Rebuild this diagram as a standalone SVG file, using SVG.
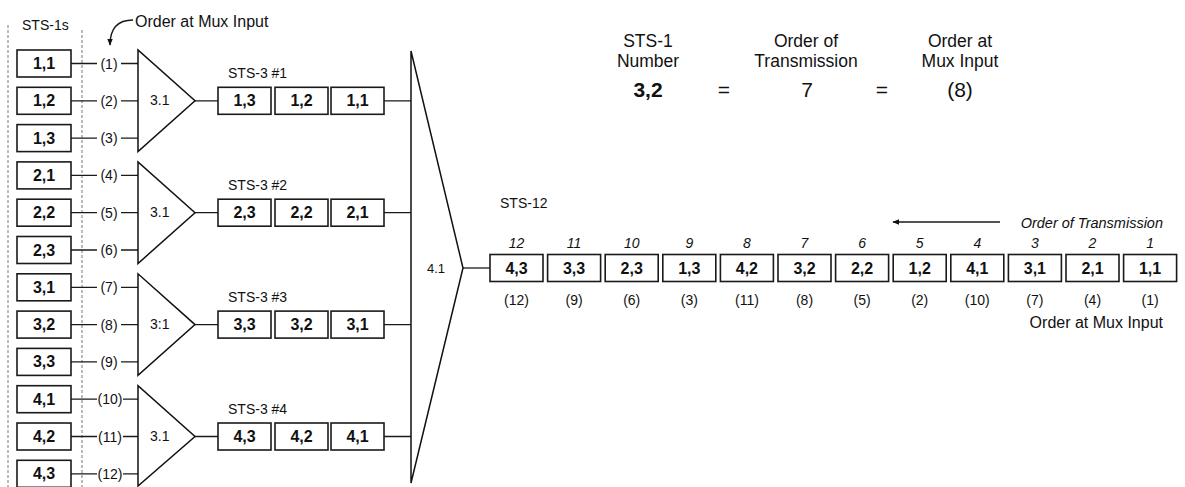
<svg xmlns="http://www.w3.org/2000/svg" width="1185" height="487" viewBox="0 0 1185 487">
<style>
text{font-family:"Liberation Sans",Arial,sans-serif;fill:#111}
.fr{fill:#fff;stroke:#1a1a1a;stroke-width:1.6}
.bx{font-weight:bold;font-size:16px;text-anchor:middle}
.ord{font-size:14px;text-anchor:middle}
.lb{font-size:14px}
.it{font-size:14px;font-style:italic;text-anchor:middle}
.hd{font-size:17.5px;text-anchor:middle}
.val{font-size:21px;text-anchor:middle}
.ln{stroke:#1a1a1a;stroke-width:1.3;fill:none}
.mux{fill:#fff;stroke:#111;stroke-width:1.5}
.guide{stroke:#777;stroke-width:1;stroke-dasharray:3 2;fill:none}
</style>
<defs>
<marker id="ah" viewBox="0 0 10 10" refX="9" refY="5" markerWidth="7" markerHeight="7" orient="auto" markerUnits="userSpaceOnUse">
<path d="M0,1 L10,5 L0,9 Z" fill="#111"/>
</marker>
</defs>

<g id="guides">
<line class="guide" x1="8" y1="25" x2="8" y2="487"/>
<line class="guide" x1="82" y1="30" x2="82" y2="487" stroke-dasharray="1.5 2"/>
</g>

<g id="legend">
<text class="hd" x="648" y="47">STS-1</text>
<text class="hd" x="648" y="67">Number</text>
<text class="val" x="648" y="97" font-weight="bold">3,2</text>
<text class="val" x="724" y="97">=</text>
<text class="hd" x="806" y="47">Order of</text>
<text class="hd" x="806" y="67">Transmission</text>
<text class="val" x="807" y="97">7</text>
<text class="val" x="882" y="97">=</text>
<text class="hd" x="960" y="47">Order at</text>
<text class="hd" x="960" y="67">Mux Input</text>
<text class="val" x="960" y="97">(8)</text>
</g>

<g id="title-sts1s"><text class="lb" x="22" y="30">STS-1s</text></g>
<g id="title-mux-input"><text x="135" y="27" font-size="16">Order at Mux Input</text></g>

<g id="connectors">
<path class="ln" d="M133,20 C118,20 110,28 110,45" marker-end="url(#ah)"/>
<path class="ln" d="M71,63.5H97M121,63.5H138M71,100.8H97M121,100.8H138M71,138.1H97M121,138.1H138
M71,175.4H97M121,175.4H138M71,212.7H97M121,212.7H138M71,250H97M121,250H138
M71,287.3H97M121,287.3H138M71,324.6H97M121,324.6H138M71,361.9H97M121,361.9H138
M71,399.2H97M123,399.2H138M71,436.5H97M123,436.5H138M71,473.8H97M123,473.8H138"/>
<path class="ln" d="M195,100.8H218M195,212.7H218M195,324.6H218M195,436.5H218"/>
<path class="ln" d="M384,100.8H411M384,212.7H411M384,324.6H411M384,436.5H411"/>
<path class="ln" d="M463,268H490"/>
<line class="ln" x1="1000" y1="222" x2="893" y2="222" marker-end="url(#ah)"/>
</g>

<g id="sts1-1-1"><rect class="fr" x="17" y="50" width="54" height="27"/><text class="bx" x="44" y="69">1,1</text></g>
<g id="sts1-1-2"><rect class="fr" x="17" y="87.3" width="54" height="27"/><text class="bx" x="44" y="106.3">1,2</text></g>
<g id="sts1-1-3"><rect class="fr" x="17" y="124.6" width="54" height="27"/><text class="bx" x="44" y="143.6">1,3</text></g>
<g id="sts1-2-1"><rect class="fr" x="17" y="161.9" width="54" height="27"/><text class="bx" x="44" y="180.9">2,1</text></g>
<g id="sts1-2-2"><rect class="fr" x="17" y="199.2" width="54" height="27"/><text class="bx" x="44" y="218.2">2,2</text></g>
<g id="sts1-2-3"><rect class="fr" x="17" y="236.5" width="54" height="27"/><text class="bx" x="44" y="255.5">2,3</text></g>
<g id="sts1-3-1"><rect class="fr" x="17" y="273.8" width="54" height="27"/><text class="bx" x="44" y="292.8">3,1</text></g>
<g id="sts1-3-2"><rect class="fr" x="17" y="311.1" width="54" height="27"/><text class="bx" x="44" y="330.1">3,2</text></g>
<g id="sts1-3-3"><rect class="fr" x="17" y="348.4" width="54" height="27"/><text class="bx" x="44" y="367.4">3,3</text></g>
<g id="sts1-4-1"><rect class="fr" x="17" y="385.7" width="54" height="27"/><text class="bx" x="44" y="404.7">4,1</text></g>
<g id="sts1-4-2"><rect class="fr" x="17" y="423" width="54" height="27"/><text class="bx" x="44" y="442">4,2</text></g>
<g id="sts1-4-3"><rect class="fr" x="17" y="460.3" width="54" height="27"/><text class="bx" x="44" y="479.3">4,3</text></g>

<g id="input-order">
<text class="ord" x="109" y="68.5">(1)</text>
<text class="ord" x="109" y="105.8">(2)</text>
<text class="ord" x="109" y="143.1">(3)</text>
<text class="ord" x="109" y="180.4">(4)</text>
<text class="ord" x="109" y="217.7">(5)</text>
<text class="ord" x="109" y="255">(6)</text>
<text class="ord" x="109" y="292.3">(7)</text>
<text class="ord" x="109" y="329.6">(8)</text>
<text class="ord" x="109" y="366.9">(9)</text>
<text class="ord" x="110" y="404.2">(10)</text>
<text class="ord" x="110" y="441.5">(11)</text>
<text class="ord" x="110" y="478.8">(12)</text>
</g>

<g id="mux-1"><path class="mux" d="M138,50V151.6L195,100.8Z"/><text class="lb" x="150" y="105">3.1</text></g>
<g id="mux-2"><path class="mux" d="M138,161.9V263.5L195,212.7Z"/><text class="lb" x="150" y="217">3.1</text></g>
<g id="mux-3"><path class="mux" d="M138,273.8V375.4L195,324.6Z"/><text class="lb" x="150" y="329">3:1</text></g>
<g id="mux-4"><path class="mux" d="M138,385.7V486L195,436.5Z"/><text class="lb" x="150" y="441">3.1</text></g>

<g id="sts3-1">
<text class="lb" x="228" y="78">STS-3 #1</text>
<rect class="fr" x="218" y="87.3" width="53" height="27"/><text class="bx" x="244.5" y="106.3">1,3</text>
<rect class="fr" x="275" y="87.3" width="53" height="27"/><text class="bx" x="301.5" y="106.3">1,2</text>
<rect class="fr" x="331" y="87.3" width="53" height="27"/><text class="bx" x="357.5" y="106.3">1,1</text>
</g>
<g id="sts3-2">
<text class="lb" x="228" y="190">STS-3 #2</text>
<rect class="fr" x="218" y="199.2" width="53" height="27"/><text class="bx" x="244.5" y="218.2">2,3</text>
<rect class="fr" x="275" y="199.2" width="53" height="27"/><text class="bx" x="301.5" y="218.2">2,2</text>
<rect class="fr" x="331" y="199.2" width="53" height="27"/><text class="bx" x="357.5" y="218.2">2,1</text>
</g>
<g id="sts3-3">
<text class="lb" x="228" y="302">STS-3 #3</text>
<rect class="fr" x="218" y="311.1" width="53" height="27"/><text class="bx" x="244.5" y="330.1">3,3</text>
<rect class="fr" x="275" y="311.1" width="53" height="27"/><text class="bx" x="301.5" y="330.1">3,2</text>
<rect class="fr" x="331" y="311.1" width="53" height="27"/><text class="bx" x="357.5" y="330.1">3,1</text>
</g>
<g id="sts3-4">
<text class="lb" x="228" y="414">STS-3 #4</text>
<rect class="fr" x="218" y="423" width="53" height="27"/><text class="bx" x="244.5" y="442">4,3</text>
<rect class="fr" x="275" y="423" width="53" height="27"/><text class="bx" x="301.5" y="442">4,2</text>
<rect class="fr" x="331" y="423" width="53" height="27"/><text class="bx" x="357.5" y="442">4,1</text>
</g>

<g id="mux-4to1"><path class="mux" d="M411,51V483L463,268Z"/><text x="427" y="273" font-size="13">4.1</text></g>

<g id="sts12">
<text class="lb" x="500" y="208">STS-12</text>
<text x="1163" y="228" font-size="14.5" font-style="italic" text-anchor="end">Order of Transmission</text>
<text x="1163" y="328" font-size="16" text-anchor="end">Order at Mux Input</text>
<rect class="fr" x="490" y="254.5" width="53" height="27"/><text class="bx" x="516.5" y="273.5">4,3</text><text class="it" x="516.5" y="248">12</text><text class="ord" x="516.5" y="305">(12)</text>
<rect class="fr" x="547.6" y="254.5" width="53" height="27"/><text class="bx" x="574.1" y="273.5">3,3</text><text class="it" x="574.1" y="248">11</text><text class="ord" x="574.1" y="305">(9)</text>
<rect class="fr" x="605.2" y="254.5" width="53" height="27"/><text class="bx" x="631.7" y="273.5">2,3</text><text class="it" x="631.7" y="248">10</text><text class="ord" x="631.7" y="305">(6)</text>
<rect class="fr" x="662.8" y="254.5" width="53" height="27"/><text class="bx" x="689.3" y="273.5">1,3</text><text class="it" x="689.3" y="248">9</text><text class="ord" x="689.3" y="305">(3)</text>
<rect class="fr" x="720.4" y="254.5" width="53" height="27"/><text class="bx" x="746.9" y="273.5">4,2</text><text class="it" x="746.9" y="248">8</text><text class="ord" x="746.9" y="305">(11)</text>
<rect class="fr" x="778" y="254.5" width="53" height="27"/><text class="bx" x="804.5" y="273.5">3,2</text><text class="it" x="804.5" y="248">7</text><text class="ord" x="804.5" y="305">(8)</text>
<rect class="fr" x="835.6" y="254.5" width="53" height="27"/><text class="bx" x="862.1" y="273.5">2,2</text><text class="it" x="862.1" y="248">6</text><text class="ord" x="862.1" y="305">(5)</text>
<rect class="fr" x="893.2" y="254.5" width="53" height="27"/><text class="bx" x="919.7" y="273.5">1,2</text><text class="it" x="919.7" y="248">5</text><text class="ord" x="919.7" y="305">(2)</text>
<rect class="fr" x="950.8" y="254.5" width="53" height="27"/><text class="bx" x="977.3" y="273.5">4,1</text><text class="it" x="977.3" y="248">4</text><text class="ord" x="977.3" y="305">(10)</text>
<rect class="fr" x="1008.4" y="254.5" width="53" height="27"/><text class="bx" x="1034.9" y="273.5">3,1</text><text class="it" x="1034.9" y="248">3</text><text class="ord" x="1034.9" y="305">(7)</text>
<rect class="fr" x="1066" y="254.5" width="53" height="27"/><text class="bx" x="1092.5" y="273.5">2,1</text><text class="it" x="1092.5" y="248">2</text><text class="ord" x="1092.5" y="305">(4)</text>
<rect class="fr" x="1123.6" y="254.5" width="53" height="27"/><text class="bx" x="1150.1" y="273.5">1,1</text><text class="it" x="1150.1" y="248">1</text><text class="ord" x="1150.1" y="305">(1)</text>
</g>
</svg>
